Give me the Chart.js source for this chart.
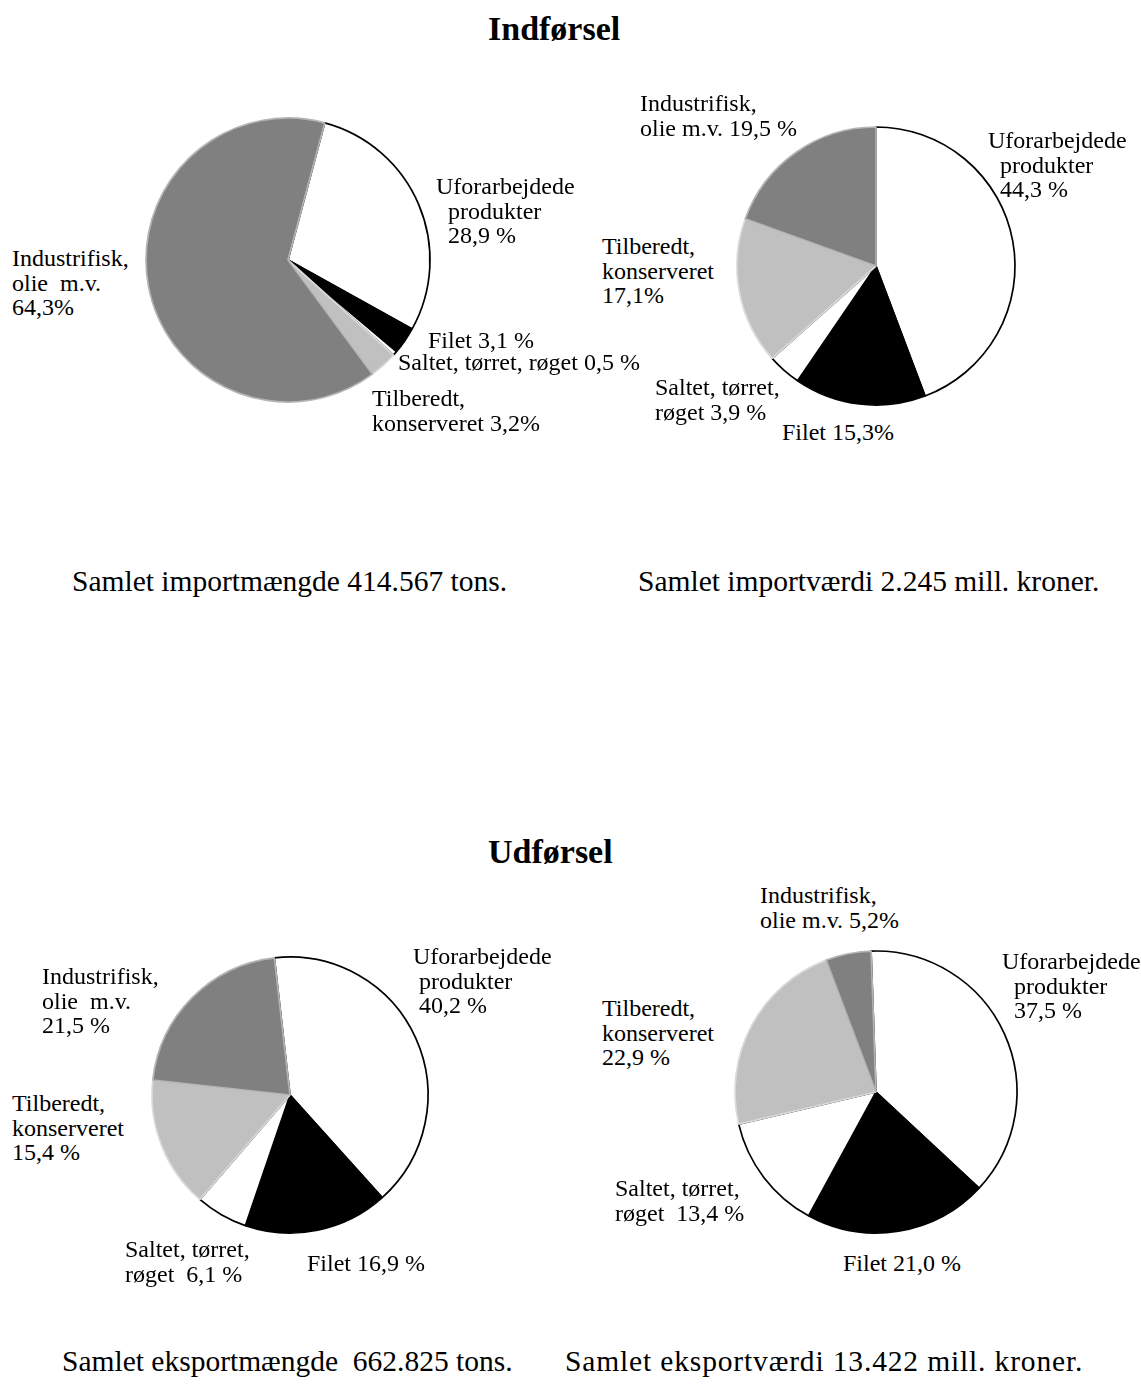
<!DOCTYPE html>
<html>
<head>
<meta charset="utf-8">
<script src="https://cdn.jsdelivr.net/npm/chart.js@4/dist/chart.umd.min.js"></script>
<style>
  html, body { margin: 0; padding: 0; background: #fff; }
  body { width: 1141px; height: 1389px; position: relative; overflow: hidden;
         font-family: "Liberation Serif", "Times New Roman", serif; color: #000; }
  .t { position: absolute; font-size: 24px; line-height: 24.5px; white-space: pre; }
  .title { position: absolute; font-size: 34px; font-weight: bold; line-height: 36px; white-space: pre; }
  .sum { position: absolute; font-size: 29.5px; line-height: 32px; white-space: pre; }
  canvas { position: absolute; }
</style>
</head>
<body>
<script>
// ---- data ----
const categories = ['Uforarbejdede produkter', 'Filet', 'Saltet, tørret, røget', 'Tilberedt, konserveret', 'Industrifisk, olie m.v.'];
const importMaengde = [28.9, 3.1, 0.5, 3.2, 64.3];   // % of 414.567 tons
const importVaerdi  = [44.3, 15.3, 3.9, 17.1, 19.5]; // % of 2.245 mill. kr.
const eksportMaengde = [40.2, 16.9, 6.1, 15.4, 21.5]; // % of 662.825 tons
const eksportVaerdi  = [37.5, 21.0, 13.4, 22.9, 5.2]; // % of 13.422 mill. kr.

const sliceColors  = ['#ffffff', '#000000', '#ffffff', '#c0c0c0', '#808080'];
const borderColors = ['#000000', '#000000', '#000000', '#dadada', '#b4b4b4'];

function makePie(id, left, top, values, rotation, radius) {
  const c = document.createElement('canvas');
  c.id = id; c.width = 300; c.height = 300;
  c.style.left = left + 'px'; c.style.top = top + 'px';
  c.style.width = '300px'; c.style.height = '300px';
  document.body.appendChild(c);
  new Chart(c, {
    type: 'pie',
    data: {
      labels: categories,
      datasets: [{
        data: values,
        backgroundColor: sliceColors,
        borderColor: borderColors,
        borderWidth: 1.7,
        radius: radius
      }]
    },
    options: {
      responsive: false,
      animation: false,
      rotation: rotation,
      layout: { padding: 0 },
      plugins: { legend: { display: false }, tooltip: { enabled: false }, title: { display: false } }
    }
  });
}

makePie('p1', 138, 110, importMaengde, 15, 142);
makePie('p2', 726, 116, importVaerdi, 0, 139);
makePie('p3', 140, 945, eksportMaengde, -6.5, 138);
makePie('p4', 726, 942, eksportVaerdi, -2, 141);
</script>

<div class="title" style="left:488px; top:11px;">Indførsel</div>

<!-- Pie 1 labels -->
<div class="t" style="left:436px; top:174px;">Uforarbejdede
  produkter
  28,9 %</div>
<div class="t" style="left:12px; top:246px;">Industrifisk,
olie  m.v.
64,3%</div>
<div class="t" style="left:428px; top:328px;">Filet 3,1 %</div>
<div class="t" style="left:398px; top:350px;">Saltet, tørret, røget 0,5 %</div>
<div class="t" style="left:372px; top:386px;">Tilberedt,
konserveret 3,2%</div>

<!-- Pie 2 labels -->
<div class="t" style="left:640px; top:91px;">Industrifisk,
olie m.v. 19,5 %</div>
<div class="t" style="left:988px; top:128px;">Uforarbejdede
  produkter
  44,3 %</div>
<div class="t" style="left:602px; top:234px;">Tilberedt,
konserveret
17,1%</div>
<div class="t" style="left:655px; top:375px;">Saltet, tørret,
røget 3,9 %</div>
<div class="t" style="left:782px; top:420px;">Filet 15,3%</div>

<div class="sum" style="left:72px; top:565px;">Samlet importmængde 414.567 tons.</div>
<div class="sum" style="left:638px; top:565px;">Samlet importværdi 2.245 mill. kroner.</div>

<div class="title" style="left:488px; top:834px;">Udførsel</div>

<!-- Pie 3 labels -->
<div class="t" style="left:42px; top:964px;">Industrifisk,
olie  m.v.
21,5 %</div>
<div class="t" style="left:413px; top:944px;">Uforarbejdede
 produkter
 40,2 %</div>
<div class="t" style="left:12px; top:1091px;">Tilberedt,
konserveret
15,4 %</div>
<div class="t" style="left:125px; top:1237px;">Saltet, tørret,
røget  6,1 %</div>
<div class="t" style="left:307px; top:1251px;">Filet 16,9 %</div>

<!-- Pie 4 labels -->
<div class="t" style="left:760px; top:883px;">Industrifisk,
olie m.v. 5,2%</div>
<div class="t" style="left:1002px; top:949px;">Uforarbejdede
  produkter
  37,5 %</div>
<div class="t" style="left:602px; top:996px;">Tilberedt,
konserveret
22,9 %</div>
<div class="t" style="left:615px; top:1176px;">Saltet, tørret,
røget  13,4 %</div>
<div class="t" style="left:843px; top:1251px;">Filet 21,0 %</div>

<div class="sum" style="left:62px; top:1345px;">Samlet eksportmængde  662.825 tons.</div>
<div class="sum" style="left:565px; top:1345px; letter-spacing:0.85px;">Samlet eksportværdi 13.422 mill. kroner.</div>
</body>
</html>
